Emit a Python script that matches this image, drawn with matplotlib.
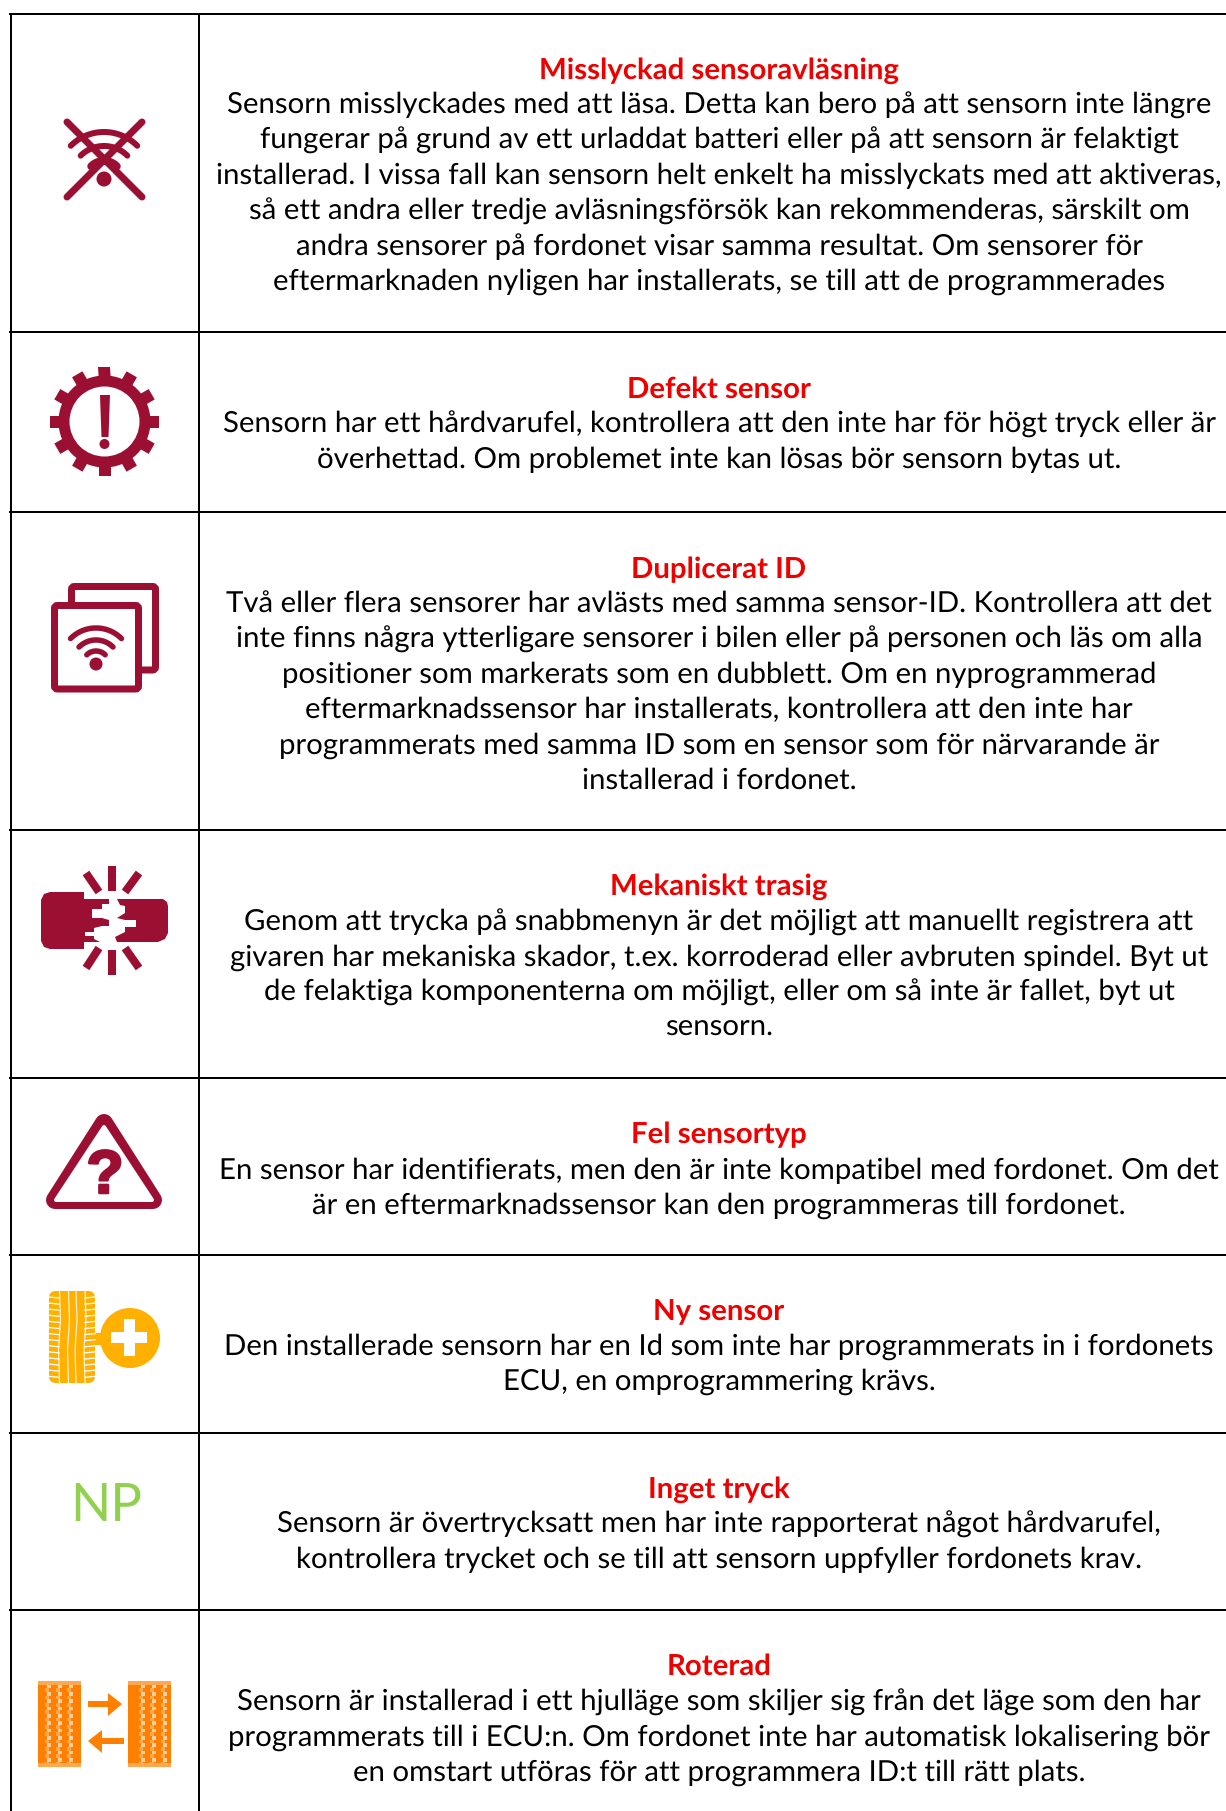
import numpy as np
import matplotlib
matplotlib.use('Agg')
import matplotlib.pyplot as plt
import matplotlib.patheffects as pe
from matplotlib.patches import Circle, Rectangle, FancyBboxPatch, Polygon

plt.rcParams['font.family'] = ['Lato', 'DejaVu Sans']
plt.rcParams['text.hinting'] = 'no_hinting'

# table content
titles = ['Misslyckad sensoravläsning', 'Defekt sensor', 'Duplicerat ID', 'Mekaniskt trasig',
          'Fel sensortyp', 'Ny sensor', 'Inget tryck', 'Roterad']
bodies = [
    ['Sensorn misslyckades med att läsa. Detta kan bero på att sensorn inte längre',
     'fungerar på grund av ett urladdat batteri eller på att sensorn är felaktigt',
     'installerad. I vissa fall kan sensorn helt enkelt ha misslyckats med att aktiveras,',
     'så ett andra eller tredje avläsningsförsök kan rekommenderas, särskilt om',
     'andra sensorer på fordonet visar samma resultat. Om sensorer för',
     'eftermarknaden nyligen har installerats, se till att de programmerades'],
    ['Sensorn har ett hårdvarufel, kontrollera att den inte har för högt tryck eller är',
     'överhettad. Om problemet inte kan lösas bör sensorn bytas ut.'],
    ['Två eller flera sensorer har avlästs med samma sensor-ID. Kontrollera att det',
     'inte finns några ytterligare sensorer i bilen eller på personen och läs om alla',
     'positioner som markerats som en dubblett. Om en nyprogrammerad',
     'eftermarknadssensor har installerats, kontrollera att den inte har',
     'programmerats med samma ID som en sensor som för närvarande är',
     'installerad i fordonet.'],
    ['Genom att trycka på snabbmenyn är det möjligt att manuellt registrera att',
     'givaren har mekaniska skador, t.ex. korroderad eller avbruten spindel. Byt ut',
     'de felaktiga komponenterna om möjligt, eller om så inte är fallet, byt ut',
     'sensorn.'],
    ['En sensor har identifierats, men den är inte kompatibel med fordonet. Om det',
     'är en eftermarknadssensor kan den programmeras till fordonet.'],
    ['Den installerade sensorn har en Id som inte har programmerats in i fordonets',
     'ECU, en omprogrammering krävs.'],
    ['Sensorn är övertrycksatt men har inte rapporterat något hårdvarufel,',
     'kontrollera trycket och se till att sensorn uppfyller fordonets krav.'],
    ['Sensorn är installerad i ett hjulläge som skiljer sig från det läge som den har',
     'programmerats till i ECU:n. Om fordonet inte har automatisk lokalisering bör',
     'en omstart utföras för att programmera ID:t till rätt plats.'],
]
row_edges = [14, 332, 512, 830, 1078, 1255, 1433, 1610]
title_base = [78.9, 397.7, 577.7, 895.2, 1143.5, 1319.8, 1497.6, 1675.2]

red = '#ee0000'
crimson = '#9b0f33'
yellow = '#ffb000'
orange = '#ff8000'
pale = '#ffd0a0'
mid = '#ffa850'
green = '#92d050'

W, H = 1226, 1811
fig = plt.figure(figsize=(W / 100, H / 100), dpi=100)
ax = fig.add_axes([0, 0, 1, 1])
ax.set_xlim(0, W)
ax.set_ylim(H, 0)
ax.axis('off')
px = 72 / 100  # line widths are in points


def wifi(cx, cy, radii, lws):
    for r, lw in zip(radii, lws):
        t = np.radians(np.linspace(-135, -45, 40))
        ax.plot(cx + r * np.cos(t), cy + r * np.sin(t), color=crimson, lw=lw * px,
                solid_capstyle='round', zorder=4)


# grid
ax.plot([11, 11], [14, H], color='k', lw=2 * px)
ax.plot([199, 199], [14, H], color='k', lw=2 * px)
for y in row_edges:
    ax.plot([10, W], [y, y], color='k', lw=2 * px)

# text
pitch = 35.15
for title, body, y in zip(titles, bodies, title_base):
    ax.text(719, y, title, color=red, fontsize=21.2, fontweight='bold', ha='center', va='baseline')
    for i, line in enumerate(body):
        ax.text(719, y + (i + 1) * pitch, line, color='k', fontsize=21.15, ha='center', va='baseline')

# icon 1, crossed wifi
for xs in ([67, 142], [142, 67]):
    ax.plot(xs, [122, 197], color=crimson, lw=7 * px, solid_capstyle='round')
wifi(104, 179, [47, 33, 18], [6, 6, 8])
ax.add_patch(Circle((104, 179), 7.5, color=crimson, lw=0))

# icon 2, gear
for a in np.arange(0, 360, 30):
    t = np.radians(a)
    c, s = np.cos(t), np.sin(t)
    w = 6
    pts = [(40 * c - w * s, 40 * s + w * c), (54.5 * c - w * s, 54.5 * s + w * c),
           (54.5 * c + w * s, 54.5 * s - w * c), (40 * c + w * s, 40 * s - w * c)]
    ax.add_patch(Polygon([(104.5 + p, 421.5 + q) for p, q in pts], color=crimson, lw=0))
ax.add_patch(Circle((104.5, 421.5), 46, color=crimson, lw=0))
ax.add_patch(Circle((104.5, 421.5), 35, color='white', lw=0))
ax.add_patch(Polygon([(100, 395), (110, 395), (108.5, 437), (101.5, 437)], color=crimson, lw=0))
ax.add_patch(Circle((104.5, 444), 5, color=crimson, lw=0))

# icon 3, duplicated squares
for x0, y0 in ((68, 583), (51, 602)):
    ax.add_patch(FancyBboxPatch((x0 + 3.5, y0 + 3.5), 84, 83.5, boxstyle='round,pad=0,rounding_size=3',
                                fc='white', ec=crimson, lw=7 * px, zorder=3))
wifi(96, 664, [36, 24, 13], [5.5, 5.5, 5.5])
ax.add_patch(Circle((96, 664), 6.5, color=crimson, lw=0, zorder=4))

# icon 4, broken part, outline
left_part = [(50, 892), (84, 892), (84, 899), (109, 899), (109, 904), (102, 904), (102, 909), (92, 909),
             (92, 918), (102, 918), (109, 920), (109, 926), (102, 926), (94, 928), (94, 932), (85, 932),
             (85, 936), (94, 936), (94, 939), (100, 942), (84, 942), (84, 949), (50, 949), (44, 947),
             (41, 941), (41, 900), (44, 894)]
right_part = [(117, 899), (163, 899), (167, 902), (168, 906), (168, 933), (165, 939), (158, 942), (117, 942),
              (115, 937), (125, 932), (125, 927), (136, 927), (136, 920), (125, 920), (117, 918),
              (125, 913), (125, 906), (120, 905)]
ax.add_patch(Polygon(left_part, color=crimson, lw=0))
ax.add_patch(Polygon(right_part, color=crimson, lw=0))
rays = [((112, 866), (112, 891)), ((112, 950), (112, 975)), ((86, 873), (99, 892)), ((139, 873), (125, 892)),
        ((86, 968), (99, 948)), ((139, 968), (125, 948))]
for a, b in rays:
    ax.plot([a[0], b[0]], [a[1], b[1]], color=crimson, lw=8 * px, solid_capstyle='butt')

# icon 5, warning triangle
ax.add_patch(Polygon([(104, 1123), (55, 1200), (153, 1200)], fc=crimson, ec=crimson, lw=18 * px, joinstyle='round'))
ax.add_patch(Polygon([(104, 1127), (56, 1200), (152, 1200)], fc='white', ec='white', lw=4 * px, joinstyle='round'))
ax.text(105, 1193, '?', color=crimson, fontsize=44, fontweight='bold', family='Liberation Sans',
        ha='center', va='baseline', path_effects=[pe.withStroke(linewidth=2.5 * px, foreground=crimson)])

# icon 6, new sensor
ax.add_patch(FancyBboxPatch((53, 1295), 38, 84, boxstyle='round,pad=4,rounding_size=7', fc=yellow, ec='none', lw=0))
ax.add_patch(Rectangle((93, 1333), 14, 12, color=yellow, lw=0))
ax.add_patch(Circle((130, 1338), 30, color=yellow, lw=0))
ax.add_patch(Rectangle((111, 1332), 36, 11, color='white', lw=0))
ax.add_patch(Rectangle((124, 1319), 11, 37, color='white', lw=0))
for x in (59.5, 68.5, 76, 85):
    ax.plot([x, x + 1, x - 1, x], [1291, 1320, 1350, 1383], color='#fff3d0', lw=1.2 * px)
for y in np.arange(1297, 1380, 6.1):
    ax.plot([49, 59], [y, y + 1], color='white', lw=1.3 * px)
    ax.plot([85, 95], [y + 1, y], color='white', lw=1.3 * px)

# icon 7
ax.text(106.5, 1521, 'NP', color=green, fontsize=38, ha='center', va='baseline')

# icon 8, rotated tyres
cell = 3.67
for x0, stripes in ((38, (7, 18, 29)), (128, (11, 22, 33))):
    ax.add_patch(Rectangle((x0, 1681), 43, 86, color=orange, lw=0))
    ax.add_patch(Rectangle((x0, 1681), 43, cell, color=mid, lw=0))
    ax.add_patch(Rectangle((x0, 1767 - cell), 43, cell, color=mid, lw=0))
    for s in stripes:
        for j in range(23):
            shade = pale if j % 2 else mid
            ax.add_patch(Rectangle((x0 + s + (j % 2) * cell * 0.5, 1681 + j * cell), cell, cell, color=shade, lw=0))
ax.plot([88, 112], [1704, 1704], color=orange, lw=6 * px, solid_capstyle='butt')
ax.add_patch(Polygon([(108, 1693), (122, 1704), (108, 1716)], color=orange, lw=0))
ax.plot([124, 98], [1741, 1741], color=orange, lw=6 * px, solid_capstyle='butt')
ax.add_patch(Polygon([(102, 1730), (88, 1741), (102, 1753)], color=orange, lw=0))

fig.savefig('out.png', dpi=100, facecolor='white')
